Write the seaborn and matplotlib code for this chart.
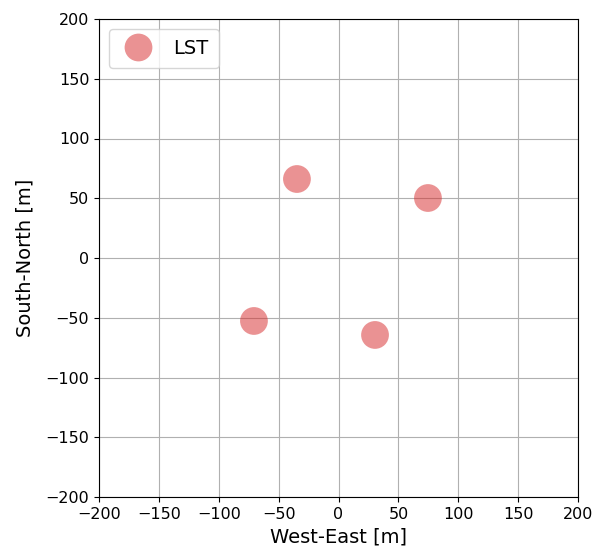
import matplotlib
matplotlib.use("Agg")
import matplotlib.pyplot as plt
import seaborn as sns
import pandas as pd

east = [-34.7, 74.7, -70.6, 30.5]
north = [66.1, 50.2, -52.7, -64.4]
labels = ["LST", "LST", "LST", "LST"]

df = pd.DataFrame({"x": east, "y": north, "name": labels})

plt.rcParams['font.family'] = ['DejaVu Sans']
fig = plt.figure(figsize=(6.04, 5.51), dpi=100)
ax = fig.add_axes([99/604, 1-497/551, 479/604, 478/551])
ax.set_axisbelow(True)
ax.grid(True, color="#b0b0b0", linewidth=0.8)
sns.scatterplot(data=df, x="x", y="y", hue="name", palette=["tab:red"], alpha=0.5,
                s=400, edgecolor="none", ax=ax)
ax.set_xlim(-200, 200)
ax.set_ylim(-200, 200)
ax.set_xticks(range(-200, 201, 50))
ax.set_yticks(range(-200, 201, 50))
ax.tick_params(labelsize=11.5, length=3.5, colors="black")
ax.set_xlabel("West-East [m]", fontsize=14)
ax.set_ylabel("South-North [m]", fontsize=14, labelpad=8)
for s in ax.spines.values():
    s.set_color("black")
    s.set_linewidth(0.8)
ax.legend(loc="upper left", fontsize=14, markerscale=1.0, title=None, borderpad=0.53)
fig.savefig("out.png", dpi=100)
